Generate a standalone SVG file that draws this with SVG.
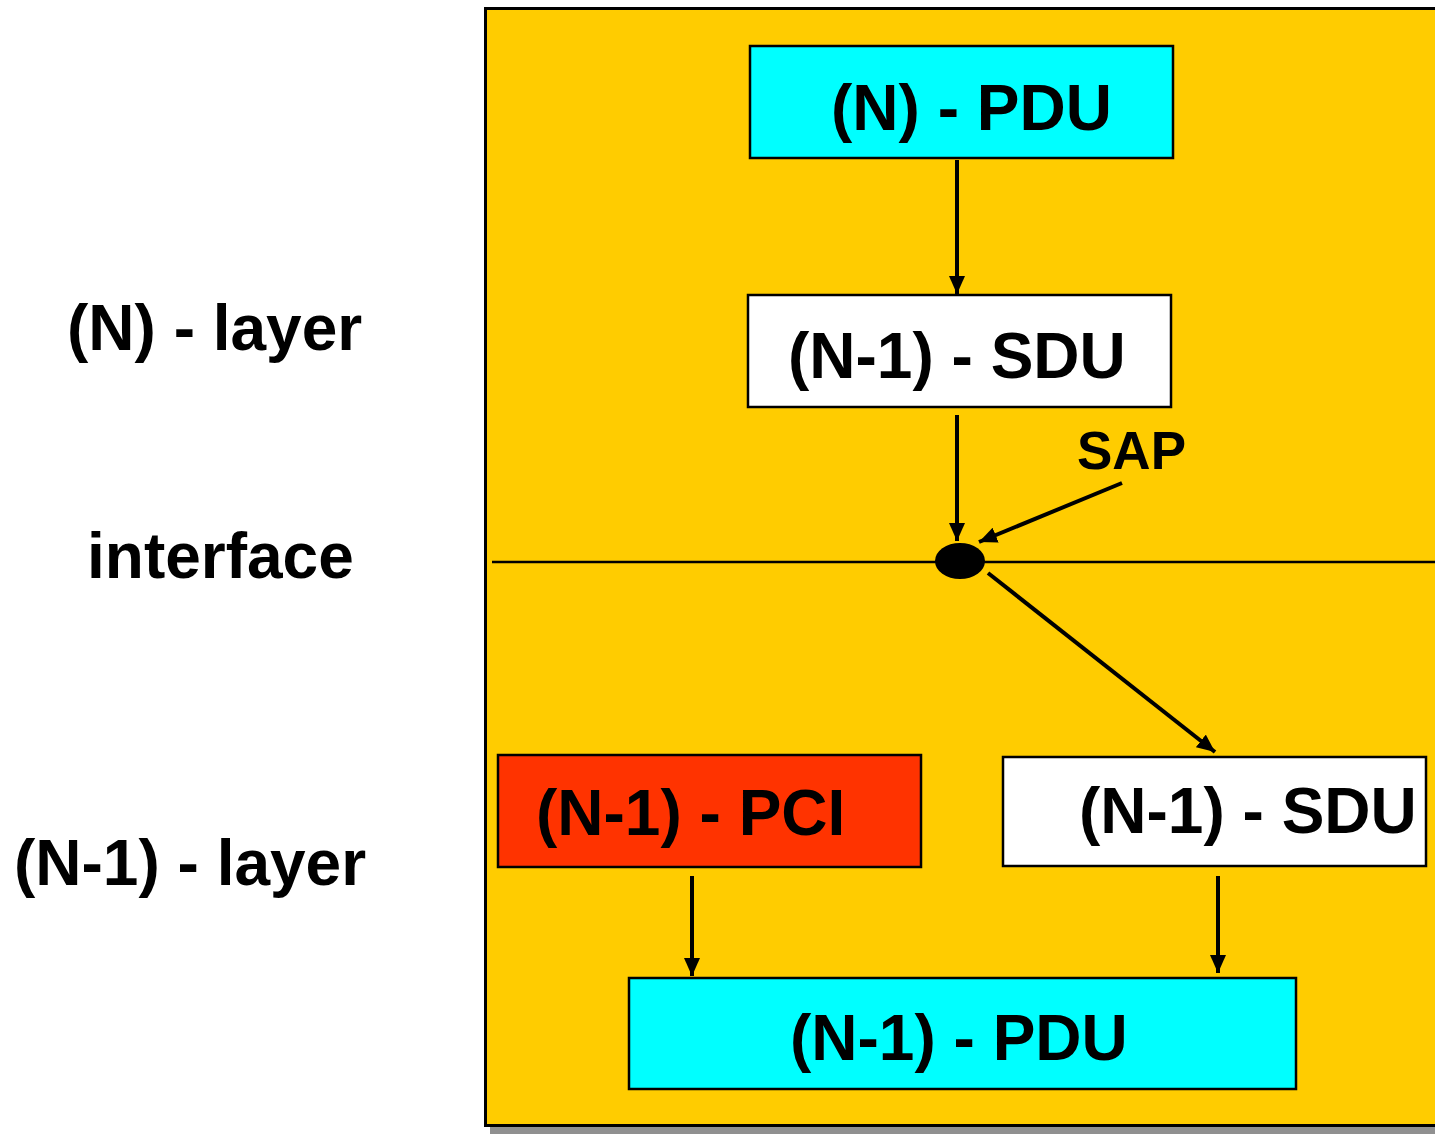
<svg xmlns="http://www.w3.org/2000/svg" width="1435" height="1134" viewBox="0 0 1435 1134">
<style>
  .lbl { font-family: "Liberation Sans", Arial, sans-serif; font-weight: bold; font-size: 64px; fill: #000; }
  .sap { font-family: "Liberation Sans", Arial, sans-serif; font-weight: bold; font-size: 53px; fill: #000; }
  .box { stroke: #000; stroke-width: 2.5; }
  .con { stroke: #000; stroke-width: 4; fill: none; marker-end: url(#ah); }
</style>
<defs>
  <marker id="ah" markerUnits="userSpaceOnUse" viewBox="0 0 18 16" refX="18" refY="8" markerWidth="18" markerHeight="16" orient="auto">
    <path d="M0,0 L18,8 L0,16 Z" fill="#000"/>
  </marker>
</defs>
<rect width="1435" height="1134" fill="#fff"/>
<g id="layer-box">
  <rect x="490" y="13" width="960" height="1121" fill="#909090"/>
  <rect x="485.5" y="8.5" width="960" height="1117" fill="#FFCC00" stroke="#000" stroke-width="3"/>
  <line x1="492" y1="562" x2="1435" y2="562" stroke="#000" stroke-width="2.5"/>
</g>
<g id="labels">
  <text class="lbl" x="67" y="350">(N) - layer</text>
  <text class="lbl" x="87" y="578">interface</text>
  <text class="lbl" x="14" y="885">(N-1) - layer</text>
</g>
<g id="n-pdu">
  <rect class="box" x="750" y="46" width="423" height="112" fill="#00FFFF"/>
  <text class="lbl" x="831" y="130">(N) - PDU</text>
</g>
<g id="n1-sdu-top">
  <rect class="box" x="748" y="295" width="423" height="112" fill="#FFFFFF"/>
  <text class="lbl" x="788" y="378">(N-1) - SDU</text>
</g>
<g id="sap">
  <ellipse cx="960" cy="561" rx="25" ry="18" fill="#000"/>
  <text class="sap" x="1077" y="469">SAP</text>
</g>
<g id="n1-pci">
  <rect class="box" x="498" y="755" width="423" height="112" fill="#FF3300"/>
  <text class="lbl" x="536" y="835">(N-1) - PCI</text>
</g>
<g id="n1-sdu-bottom">
  <rect class="box" x="1003" y="757" width="423" height="109" fill="#FFFFFF"/>
  <text class="lbl" x="1079" y="833">(N-1) - SDU</text>
</g>
<g id="n1-pdu">
  <rect class="box" x="629" y="978" width="667" height="111" fill="#00FFFF"/>
  <text class="lbl" x="790" y="1060">(N-1) - PDU</text>
</g>
<g id="connectors">
  <line class="con" x1="957" y1="160" x2="957" y2="294"/>
  <line class="con" x1="957" y1="415" x2="957" y2="541"/>
  <line class="con" x1="1122" y1="483" x2="979" y2="542"/>
  <line class="con" x1="988" y1="573" x2="1215" y2="752"/>
  <line class="con" x1="692" y1="876" x2="692" y2="976"/>
  <line class="con" x1="1218" y1="876" x2="1218" y2="973"/>
</g>
</svg>
